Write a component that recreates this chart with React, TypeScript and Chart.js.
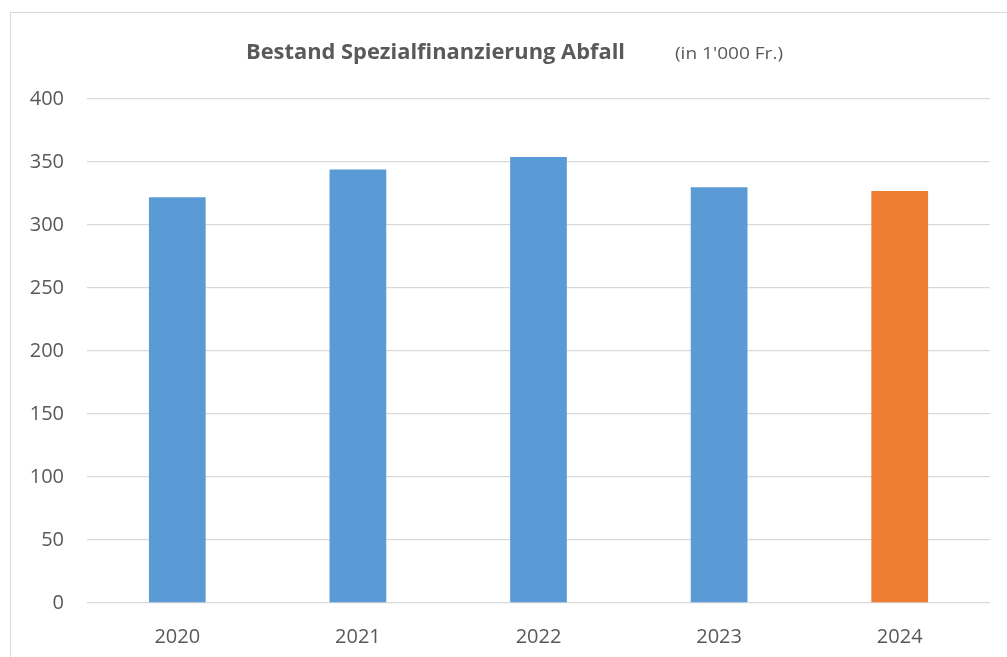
import React, { useEffect, useRef } from "react";
import { Chart, registerables } from "chart.js";

Chart.register(...registerables);

const years = ["2020", "2021", "2022", "2023", "2024"];
const values = [322, 344, 354, 330, 327];
const barColors = ["#5B9BD5", "#5B9BD5", "#5B9BD5", "#5B9BD5", "#ED7D31"];
const titleMain = "Bestand Spezialfinanzierung Abfall";
const titleUnit = "(in 1'000 Fr.)";

const FONT = "'Open Sans', 'Liberation Sans', Arial, sans-serif";

function fitText(ctx: CanvasRenderingContext2D, text: string, x: number, y: number, w: number) {
  const m = ctx.measureText(text).width;
  ctx.save();
  ctx.translate(x, y);
  ctx.scale(w / m, 1);
  ctx.fillText(text, 0, 0);
  ctx.restore();
}

const titlePlugin = {
  id: "customTitle",
  afterDraw(chart: any) {
    const ctx = chart.ctx as CanvasRenderingContext2D;
    ctx.save();
    ctx.fillStyle = "#595959";
    ctx.textAlign = "left";
    ctx.textBaseline = "alphabetic";
    ctx.font = "bold 21px " + FONT;
    fitText(ctx, titleMain, 235, 45.5, 379);
    ctx.font = "16px " + FONT;
    fitText(ctx, titleUnit, 664, 45.5, 108);
    ctx.restore();
  },
};

export default function App() {
  const ref = useRef<HTMLCanvasElement | null>(null);
  useEffect(() => {
    document.body.style.overflow = "hidden";
    const c = new Chart(ref.current!, {
      type: "bar",
      data: {
        labels: years,
        datasets: [
          {
            data: values,
            backgroundColor: barColors,
            borderWidth: 0,
            barPercentage: 0.314,
            categoryPercentage: 1,
          },
        ],
      },
      options: {
        responsive: false,
        animation: false,
        layout: { padding: { top: 86, right: 21, left: 0, bottom: 0 } },
        plugins: { legend: { display: false }, tooltip: { enabled: false }, title: { display: false } },
        scales: {
          x: {
            grid: { display: false },
            border: { display: false },
            ticks: {
              color: "#595959",
              padding: 14,
              font: { family: FONT, size: 20 },
            },
            afterFit: (s: any) => {
              s.height = 60;
            },
          },
          y: {
            min: 0,
            max: 400,
            grid: { color: "#D9D9D9", lineWidth: 1.3, drawTicks: false },
            border: { display: false },
            ticks: {
              stepSize: 50,
              color: "#595959",
              padding: 23,
              font: { family: FONT, size: 20 },
            },
            afterFit: (s: any) => {
              s.width = 76;
            },
          },
        },
      },
      plugins: [titlePlugin],
    });
    return () => c.destroy();
  }, []);
  return (
    <div
      style={{
        position: "fixed",
        left: 10,
        top: 12,
        width: 1010,
        height: 660,
        border: "1px solid #D9D9D9",
        background: "#fff",
      }}
    >
      <canvas ref={ref} width={1000} height={650} style={{ display: "block" }} />
    </div>
  );
}
